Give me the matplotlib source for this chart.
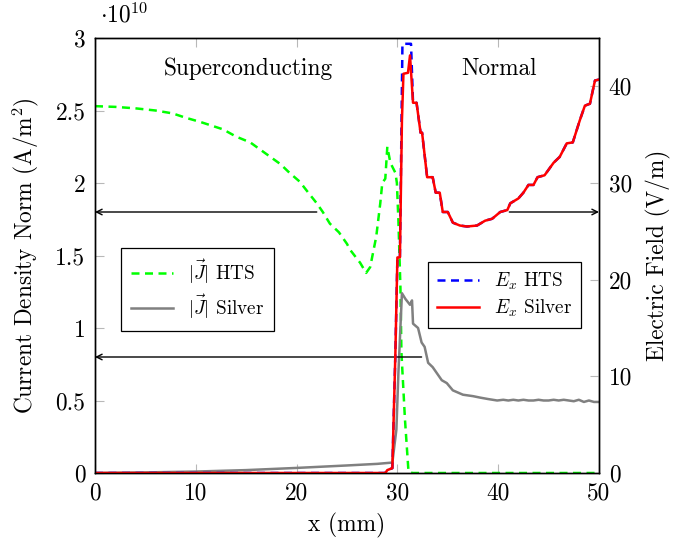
import matplotlib
matplotlib.use("Agg")
import matplotlib.pyplot as plt

plt.rcParams['font.family'] = 'serif'
plt.rcParams['font.serif'] = ['cmr10']
plt.rcParams['mathtext.fontset'] = 'cm'
plt.rcParams['axes.unicode_minus'] = False
plt.rcParams['axes.formatter.use_mathtext'] = True

# ---------------- data ----------------
# |J| HTS (units of 1e10 A/m^2)
x_j_hts = [0, 2, 4, 6, 7.7, 9, 10.5, 12.7, 14, 15.4, 17, 18.4, 19.3, 20.3, 21.2,
           22.0, 22.6, 23.3, 24.2, 25.0, 25.3, 26.3, 26.9, 27.3, 27.9, 28.3, 28.5,
           28.8, 29.0, 29.3, 29.8, 29.95, 30.1, 30.3, 30.4, 30.75, 31.1, 31.5,
           35, 40, 45, 50]
j_hts = [2.53, 2.525, 2.515, 2.50, 2.48, 2.45, 2.42, 2.37, 2.32, 2.28, 2.20, 2.13,
         2.07, 2.01, 1.93, 1.86, 1.80, 1.72, 1.66, 1.58, 1.54, 1.45, 1.38, 1.42,
         1.63, 1.86, 2.0, 2.03, 2.25, 2.14, 2.07, 2.0, 1.74, 1.28, 0.83, 0.37,
         0.01, 0.0, 0.0, 0.0, 0.0, 0.0]

# |J| Silver (units of 1e10 A/m^2)
x_j_ag = [0, 5, 10, 15, 20, 25, 28, 29.5, 29.9, 30.1, 30.45, 30.8, 31.25, 31.45,
          31.55, 32.05, 32.4, 32.7, 33.05, 33.5, 33.9, 34.4, 34.9, 35.5, 36.5,
          37.5, 38.2, 39.0, 39.9, 40.5, 41, 41.5, 42, 42.5, 43, 43.5, 44, 44.5,
          45, 45.5, 46, 46.5, 47, 47.5, 48, 48.5, 49, 49.5, 50]
j_ag = [0, 0.004, 0.01, 0.02, 0.035, 0.052, 0.063, 0.072, 0.3, 0.69, 1.24, 1.20,
        1.16, 1.19, 1.03, 1.0, 0.90, 0.87, 0.76, 0.73, 0.69, 0.64, 0.62, 0.57,
        0.54, 0.53, 0.52, 0.51, 0.50, 0.505, 0.50, 0.505, 0.50, 0.505, 0.50,
        0.50, 0.505, 0.50, 0.50, 0.505, 0.50, 0.505, 0.50, 0.495, 0.505, 0.49,
        0.50, 0.49, 0.49]

# E_x Silver (V/m)
x_e_ag = [0, 10, 20, 28.8, 29.0, 29.5, 29.8, 30.0, 30.25, 30.45, 30.6, 31.05,
          31.25, 31.55, 31.9, 32.3, 32.45, 32.95, 33.5, 33.8, 34.2, 34.5, 35.0,
          35.5, 36.2, 36.9, 37.9, 38.7, 39.4, 40.2, 40.9, 41.2, 42.0, 42.5, 43.0,
          43.5, 43.9, 44.6, 45.5, 46.1, 46.8, 47.4, 48.1, 48.6, 49.1, 49.6, 50]
e_ag = [0, 0, 0, 0, 0.3, 0.5, 12.4, 22.3, 22.3, 36.5, 41.3, 41.4, 43.2, 38.3,
        38.3, 35.2, 35.2, 30.6, 30.6, 29.0, 29.0, 27.0, 27.0, 25.9, 25.6, 25.5,
        25.6, 26.1, 26.3, 27.0, 27.2, 27.9, 28.4, 29.0, 29.8, 29.8, 30.6, 30.8,
        32.1, 32.7, 34.1, 34.2, 36.5, 38.0, 38.2, 40.6, 40.7]

# E_x HTS (V/m)
x_e_hts = [0, 10, 20, 28.8, 29.0, 29.5, 29.8, 30.0, 30.25, 30.5, 31.35, 31.55,
           31.9, 32.3, 32.45, 32.95, 33.5, 33.8, 34.2, 34.5, 35.0, 35.5, 36.2,
           36.9, 37.9, 38.7, 39.4, 40.2, 40.9, 41.2, 42.0, 42.5, 43.0, 43.5,
           43.9, 44.6, 45.5, 46.1, 46.8, 47.4, 48.1, 48.6, 49.1, 49.6, 50]
e_hts = [0, 0, 0, 0, 0.3, 0.5, 12.4, 22.3, 22.3, 44.4, 44.4, 38.3, 38.3, 35.2,
         35.2, 30.6, 30.6, 29.0, 29.0, 27.0, 27.0, 25.9, 25.6, 25.5, 25.6, 26.1,
         26.3, 27.0, 27.2, 27.9, 28.4, 29.0, 29.8, 29.8, 30.6, 30.8, 32.1, 32.7,
         34.1, 34.2, 36.5, 38.0, 38.2, 40.6, 40.7]

x_ticks = [0, 10, 20, 30, 40, 50]
j_ticks = [0, 0.5, 1, 1.5, 2, 2.5, 3]
j_tick_labels = ['0', '0.5', '1', '1.5', '2', '2.5', '3']
e_ticks = [0, 10, 20, 30, 40]

# ---------------- figure ----------------
fig = plt.figure(figsize=(6.86, 5.40), dpi=100)
ax = fig.add_axes([95/686, 1 - 473/540, 504/686, 435/540])
ax2 = ax.twinx()

FS = 16.8
tick_col = '#b8b8b8'
LW = 1.8
DASH = (0, (3.2, 2.2))

l1, = ax.plot(x_j_hts, j_hts, color='#00ff00', lw=LW, ls=DASH,
              label=r'$|\vec{J}|$ HTS')
l2, = ax.plot(x_j_ag, j_ag, color='#808080', lw=LW, label=r'$|\vec{J}|$ Silver')

l3, = ax2.plot(x_e_hts, e_hts, color='#0000ff', lw=LW, ls=DASH,
               label=r'$E_x$ HTS')
l4, = ax2.plot(x_e_ag, e_ag, color='#ff0000', lw=LW, label=r'$E_x$ Silver')

ax.set_xlim(0, 50)
ax.set_ylim(0, 3)
ax2.set_ylim(0, 45)

ax.set_xticks(x_ticks)
ax.set_xticklabels([str(t) for t in x_ticks])
ax.set_yticks(j_ticks)
ax.set_yticklabels(j_tick_labels)
ax2.set_yticks(e_ticks)
ax2.set_yticklabels([str(t) for t in e_ticks])

ax.tick_params(axis='x', direction='in', length=6.5, width=0.8, color=tick_col,
               top=True, bottom=True, labelsize=FS, pad=7)
ax.tick_params(axis='y', direction='in', length=6.5, width=0.8, color=tick_col,
               left=True, right=False, labelsize=FS, pad=7)
ax2.tick_params(axis='y', direction='in', length=6.5, width=0.8, color=tick_col,
                left=False, right=True, labelsize=FS, pad=7)

for a in (ax, ax2):
    for s in a.spines.values():
        s.set_linewidth(1.0)
        s.set_color('black')

ax.set_xlabel('x (mm)', fontsize=FS, labelpad=6)
ax.set_ylabel(r'Current Density Norm (A/m$^2$)', fontsize=FS, labelpad=10)
ax2.set_ylabel('Electric Field (V/m)', fontsize=FS, labelpad=10)

ax.text(0.01, 1.025, r'$\cdot 10^{10}$', transform=ax.transAxes, fontsize=FS,
        ha='left', va='bottom')

ax.text(15.2, 2.79, 'Superconducting', fontsize=FS, ha='center', va='center')
ax.text(40.1, 2.79, 'Normal', fontsize=FS, ha='center', va='center')

arrow = dict(arrowstyle='->', color='black', lw=1.0, shrinkA=0, shrinkB=0)
ax.annotate('', xy=(0, 1.8), xytext=(22, 1.8), arrowprops=arrow)
ax.annotate('', xy=(50, 1.8), xytext=(41.1, 1.8), arrowprops=arrow)
ax.annotate('', xy=(0, 0.8), xytext=(32.4, 0.8), arrowprops=arrow)

leg1 = ax.legend(handles=[l1, l2], loc='upper left',
                 bbox_to_anchor=(26/504, 225/435), borderaxespad=0,
                 fancybox=False, edgecolor='black', framealpha=1,
                 fontsize=13.8, handlelength=2.2, borderpad=0.5, labelspacing=0.35)
leg1.get_frame().set_linewidth(0.9)
leg2 = ax2.legend(handles=[l3, l4], loc='upper left',
                  bbox_to_anchor=(333/504, 211/435), borderaxespad=0,
                  fancybox=False, edgecolor='black', framealpha=1,
                  fontsize=13.8, handlelength=2.2, borderpad=0.45, labelspacing=0.3)
leg2.get_frame().set_linewidth(0.9)

fig.savefig('out.png', dpi=100)
